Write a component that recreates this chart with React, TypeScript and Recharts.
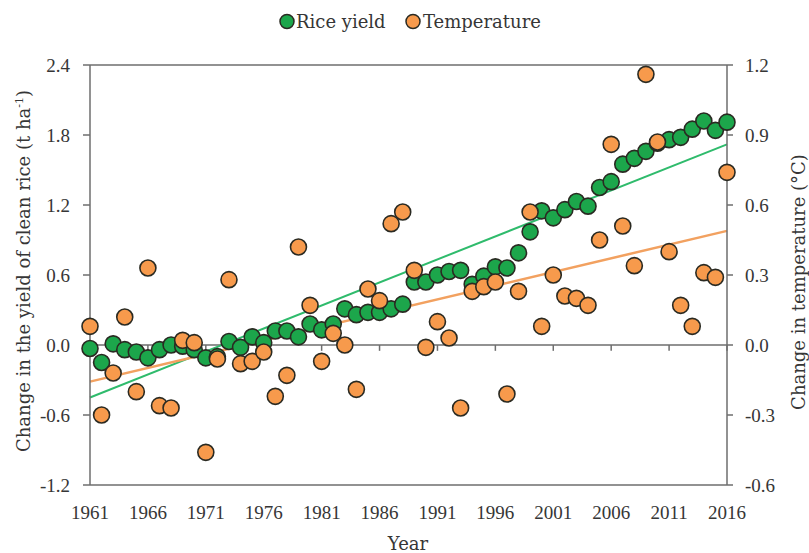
import React from 'react';
import {
  ComposedChart,
  Scatter,
  XAxis,
  YAxis,
  ReferenceLine,
} from 'recharts';

const years = [
  1961, 1962, 1963, 1964, 1965, 1966, 1967, 1968, 1969, 1970,
  1971, 1972, 1973, 1974, 1975, 1976, 1977, 1978, 1979, 1980,
  1981, 1982, 1983, 1984, 1985, 1986, 1987, 1988, 1989, 1990,
  1991, 1992, 1993, 1994, 1995, 1996, 1997, 1998, 1999, 2000,
  2001, 2002, 2003, 2004, 2005, 2006, 2007, 2008, 2009, 2010,
  2011, 2012, 2013, 2014, 2015, 2016,
];

// change in yield of clean rice, t/ha
const riceYield = [
  -0.03, -0.15, 0.01, -0.04, -0.06, -0.11, -0.04, 0.0, -0.01, -0.04,
  -0.11, -0.1, 0.03, -0.02, 0.07, 0.02, 0.12, 0.12, 0.07, 0.18,
  0.13, 0.18, 0.31, 0.26, 0.28, 0.28, 0.31, 0.35, 0.54, 0.54,
  0.6, 0.63, 0.64, 0.52, 0.59, 0.67, 0.66, 0.79, 0.97, 1.15,
  1.09, 1.16, 1.23, 1.19, 1.35, 1.4, 1.55, 1.6, 1.66, 1.73,
  1.76, 1.78, 1.85, 1.92, 1.84, 1.91,
];

// change in temperature, °C
const temperature = [
  0.08, -0.3, -0.12, 0.12, -0.2, 0.33, -0.26, -0.27, 0.02, 0.01,
  -0.46, -0.06, 0.28, -0.08, -0.07, -0.03, -0.22, -0.13, 0.42, 0.17,
  -0.07, 0.05, 0.0, -0.19, 0.24, 0.19, 0.52, 0.57, 0.32, -0.01,
  0.1, 0.03, -0.27, 0.23, 0.25, 0.27, -0.21, 0.23, 0.57, 0.08,
  0.3, 0.21, 0.2, 0.17, 0.45, 0.86, 0.51, 0.34, 1.16, 0.87,
  0.4, 0.17, 0.08, 0.31, 0.29, 0.74,
];

// linear trend values at the first and last year
const yieldTrend = [-0.45, 1.72];
const tempTrend = [-0.157, 0.489];

const yearTicks = [1961, 1966, 1971, 1976, 1981, 1986, 1991, 1996, 2001, 2006, 2011, 2016];
const yieldTicks = [-1.2, -0.6, 0, 0.6, 1.2, 1.8, 2.4];
const tempTicks = [-0.6, -0.3, 0, 0.3, 0.6, 0.9, 1.2];

const data = years.map((year, i) => ({
  year,
  rice: riceYield[i],
  temp: temperature[i],
}));

const NUM_FONT = '"Liberation Serif", "DejaVu Serif", serif';
const TITLE_FONT = '"DejaVu Serif", "Liberation Serif", serif';
const AXIS = '#6e6e6e';
const TEXT = '#363636';
const GREEN = '#1ca64b';
const ORANGE = '#f79a4c';
const OUTLINE = '#2a2a22';

const dot = (fill: string) => (props: any) => (
  <circle cx={props.cx} cy={props.cy} r={8} fill={fill} stroke={OUTLINE} strokeWidth={1.6} />
);

const tickStyle = { fontFamily: NUM_FONT, fontSize: 19, fill: TEXT };
const fmt = (v: number) => v.toFixed(1);

export default function App() {
  return (
    <div style={{ position: 'absolute', left: 0, top: 0, width: 809, height: 553, background: '#fff' }}>
      <ComposedChart
        width={809}
        height={553}
        data={data}
        margin={{ top: 65, right: 0, bottom: 0, left: 0 }}
      >
        <XAxis
          dataKey="year"
          type="number"
          domain={[1961, 2016]}
          ticks={yearTicks}
          tickLine={false}
          tickMargin={15}
          height={68}
          axisLine={{ stroke: AXIS, strokeWidth: 1.5 }}
          tick={tickStyle}
          interval={0}
        />
        <YAxis
          yAxisId="left"
          domain={[-1.2, 2.4]}
          ticks={yieldTicks}
          width={90}
          tickSize={7}
          tickMargin={13}
          tickFormatter={fmt}
          axisLine={{ stroke: AXIS, strokeWidth: 1.5 }}
          tickLine={{ stroke: AXIS, strokeWidth: 1.5 }}
          tick={tickStyle}
          interval={0}
        />
        <YAxis
          yAxisId="right"
          orientation="right"
          domain={[-0.6, 1.2]}
          ticks={tempTicks}
          width={82}
          tickSize={6}
          tickMargin={12}
          tickFormatter={fmt}
          axisLine={{ stroke: AXIS, strokeWidth: 1.5 }}
          tickLine={{ stroke: AXIS, strokeWidth: 1.5 }}
          tick={tickStyle}
          interval={0}
        />

        {/* top frame and zero line with its year ticks */}
        <ReferenceLine yAxisId="left" y={2.4} stroke={AXIS} strokeWidth={1.5} />
        <ReferenceLine yAxisId="left" y={0} stroke={AXIS} strokeWidth={1.5} />
        {yearTicks.map((yr) => (
          <ReferenceLine
            key={yr}
            yAxisId="left"
            segment={[{ x: yr, y: 0 }, { x: yr, y: -0.05 }]}
            stroke={AXIS}
            strokeWidth={1.5}
          />
        ))}

        {/* trend lines */}
        <ReferenceLine
          yAxisId="left"
          segment={[{ x: years[0], y: yieldTrend[0] }, { x: years[years.length - 1], y: yieldTrend[1] }]}
          stroke="#2fbb6c"
          strokeWidth={2}
          ifOverflow="visible"
        />
        <ReferenceLine
          yAxisId="right"
          segment={[{ x: years[0], y: tempTrend[0] }, { x: years[years.length - 1], y: tempTrend[1] }]}
          stroke="#f2a160"
          strokeWidth={2.5}
          ifOverflow="visible"
        />

        <Scatter yAxisId="left" dataKey="rice" shape={dot(GREEN)} isAnimationActive={false} />
        <Scatter yAxisId="right" dataKey="temp" shape={dot(ORANGE)} isAnimationActive={false} />
      </ComposedChart>

      {/* legend and axis titles */}
      <svg
        width={809}
        height={553}
        style={{ position: 'absolute', left: 0, top: 0, pointerEvents: 'none' }}
        fontFamily={TITLE_FONT}
        fontSize={18}
        fill={TEXT}
      >
        <circle cx={287} cy={21.5} r={7} fill={GREEN} stroke={OUTLINE} strokeWidth={1.5} />
        <text x={296} y={28}>Rice yield</text>
        <circle cx={413} cy={21.5} r={7} fill={ORANGE} stroke={OUTLINE} strokeWidth={1.5} />
        <text x={423} y={28}>Temperature</text>

        <text x={408} y={550} textAnchor="middle">Year</text>

        <text transform="translate(30, 271) rotate(-90)" textAnchor="middle">
          Change in the yield of clean rice (t ha
          <tspan fontSize={11} dy={-7}>-1</tspan>
          <tspan dy={7}>)</tspan>
        </text>
        <text transform="translate(805, 282) rotate(-90)" textAnchor="middle">
          Change in temperature (°C)
        </text>
      </svg>
    </div>
  );
}
